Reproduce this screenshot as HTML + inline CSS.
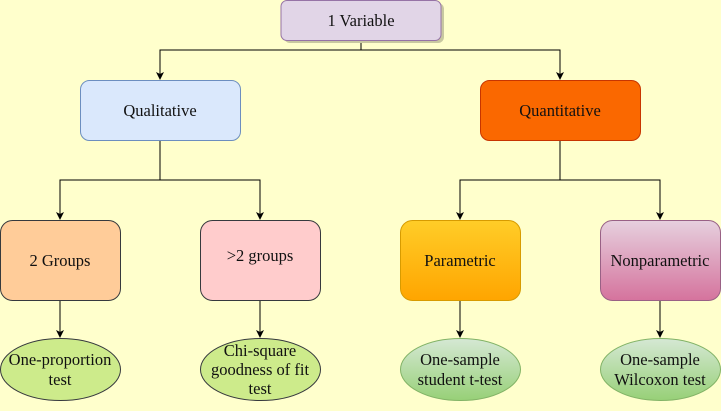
<!DOCTYPE html>
<html><head><style>body{margin:0;background:#ffffcc}svg{display:block}text{font-family:"Liberation Serif","Times New Roman",serif;font-size:16.5px;fill:#111;text-anchor:middle}</style></head><body>
<svg width="721" height="411" viewBox="0 0 721 411" xmlns="http://www.w3.org/2000/svg">
<defs>
<linearGradient id="g1" x1="0" y1="0" x2="0" y2="1"><stop offset="0" stop-color="#ffcd28"/><stop offset="1" stop-color="#ffa500"/></linearGradient>
<linearGradient id="g2" x1="0" y1="0" x2="0" y2="1"><stop offset="0" stop-color="#e6d0de"/><stop offset="1" stop-color="#d5739d"/></linearGradient>
<linearGradient id="g3" x1="0" y1="0" x2="0" y2="1"><stop offset="0" stop-color="#d5e8d4"/><stop offset="1" stop-color="#97d077"/></linearGradient>
<marker id="a" markerWidth="8" markerHeight="8" refX="7" refY="4" orient="auto" markerUnits="userSpaceOnUse"><path d="M0,0 L8,4 L0,8 L2,4z" fill="#000"/></marker>
</defs>
<rect x="0" y="0" width="721" height="411" fill="#ffffcc"/>
<g fill="none" stroke="#000" stroke-width="1">
<path d="M361 40 V50 H160 V79" marker-end="url(#a)"/>
<path d="M361 50 H560 V79" marker-end="url(#a)"/>
<path d="M160 140 V180 H60 V219" marker-end="url(#a)"/>
<path d="M160 180 H260 V219" marker-end="url(#a)"/>
<path d="M560 140 V180 H460 V219" marker-end="url(#a)"/>
<path d="M560 180 H660 V219" marker-end="url(#a)"/>
<path d="M60 300 V337" marker-end="url(#a)"/>
<path d="M260 300 V337" marker-end="url(#a)"/>
<path d="M460 300 V337" marker-end="url(#a)"/>
<path d="M660 300 V337" marker-end="url(#a)"/>
</g>
<rect x="284" y="3" width="160" height="40" rx="6" fill="#c8c8a0"/>
<rect x="281" y="0.5" width="160" height="40" rx="6" fill="#e1d5e7" stroke="#9673a6"/>
<text x="361" y="26">1 Variable</text>
<rect x="80.5" y="80.5" width="160" height="60" rx="9" fill="#dae8fc" stroke="#6c8ebf"/>
<text x="160" y="116">Qualitative</text>
<rect x="480.5" y="80.5" width="160" height="60" rx="9" fill="#fa6800" stroke="#c73500"/>
<text x="560" y="116">Quantitative</text>
<rect x="0.5" y="220.5" width="120" height="80" rx="12" fill="#ffcc99" stroke="#36393d"/>
<text x="60" y="266">2 Groups</text>
<rect x="200.5" y="220.5" width="120" height="80" rx="12" fill="#ffcccc" stroke="#36393d"/>
<text x="260" y="261">&gt;2 groups</text>
<rect x="400.5" y="220.5" width="120" height="80" rx="12" fill="url(#g1)" stroke="#d79b00"/>
<text x="460" y="266">Parametric</text>
<rect x="600.5" y="220.5" width="120" height="80" rx="12" fill="url(#g2)" stroke="#996185"/>
<text x="660" y="266">Nonparametric</text>
<ellipse cx="60.5" cy="369.5" rx="60" ry="31" fill="#cdeb8b" stroke="#36393d"/>
<text x="60" y="365">One-proportion</text><text x="60" y="385">test</text>
<ellipse cx="260.5" cy="369.5" rx="60" ry="31" fill="#cdeb8b" stroke="#36393d"/>
<text x="260" y="356">Chi-square</text><text x="260" y="375">goodness of fit</text><text x="260" y="394">test</text>
<ellipse cx="460.5" cy="369.5" rx="60" ry="31" fill="url(#g3)" stroke="#82b366"/>
<text x="460" y="365">One-sample</text><text x="460" y="385">student t-test</text>
<ellipse cx="660.5" cy="369.5" rx="60" ry="31" fill="url(#g3)" stroke="#82b366"/>
<text x="660" y="365">One-sample</text><text x="660" y="385">Wilcoxon test</text>
</svg>
</body></html>
